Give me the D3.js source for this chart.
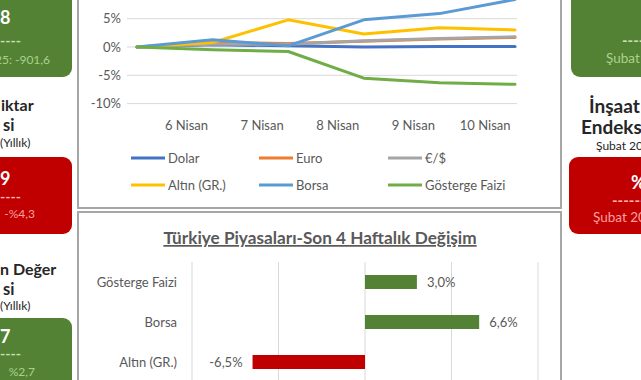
<!DOCTYPE html>
<html><head><meta charset="utf-8">
<script src="https://cdn.jsdelivr.net/npm/d3@7"></script>
<style>body{margin:0;background:#fff}svg{display:block;font-family:Lato,"Open Sans",sans-serif}</style>
</head><body><svg id="c" width="641" height="380"></svg>
<script>
// ---- data ----
const dates = ["", "6 Nisan", "7 Nisan", "8 Nisan", "9 Nisan", "10 Nisan"];
const dolar    = [0, 0.4, 0.2, 0.0, 0.1, 0.1];
const euro     = [0, 0.8, 0.6, 1.0, 1.4, 1.7];
const eurUsd   = [0, 0.5, 0.5, 1.1, 1.5, 1.8];
const altin    = [0, 0.8, 4.8, 2.3, 3.4, 3.0];
const borsa    = [0, 1.3, 0.2, 4.8, 5.9, 8.4];
const gosterge = [0, -0.5, -0.8, -5.5, -6.3, -6.6];
const seriesNames = ["Dolar", "Euro", "€/$", "Altın (GR.)", "Borsa", "Gösterge Faizi"];
const lineTicks = [-10, -5, 0, 5, 10];
const barTitle = "Türkiye Piyasaları-Son 4 Haftalık Değişim";
const barCats = ["Gösterge Faizi", "Borsa", "Altın (GR.)"];
const barVals = [3.0, 6.6, -6.5];
const barTicks = [-10, -5, 0, 5, 10];

const svg = d3.select("#c");
const grey = "#595959";
const colors = ["#4472C4", "#ED7D31", "#A5A5A5", "#FFC000", "#5B9BD5", "#70AD47"];
const allSeries = [dolar, euro, eurUsd, altin, borsa, gosterge];
const fmt = v => d3.format(".1f")(v).replace("\u2212", "-").replace(".", ",") + "%";

// ---- side cards ----
const cardG = "#548235", cardR = "#C00000";
function card(x, y, w, h, fill) {
  svg.append("rect").attr("x", x).attr("y", y).attr("width", w).attr("height", h)
    .attr("rx", 9).attr("fill", fill);
}
function txt(x, y, s, opt) {
  return svg.append("text").attr("x", x).attr("y", y).text(s)
    .attr("text-anchor", opt.anchor || "start")
    .attr("font-size", opt.size || 13)
    .attr("font-weight", opt.bold ? 700 : 400)
    .attr("fill", opt.fill || grey);
}
// left column (only the visible right-hand part of each text)
card(-30, -20, 102, 97, cardG);
txt(0, 24, "8", {size: 18, bold: true, fill: "#fff"});
txt(0, 46, "----", {size: 14, bold: true, fill: "#C5E0B4"});
txt(50, 64, "25: -901,6", {anchor: "end", size: 12, fill: "#A9D18E"});

txt(1, 111, "iktar", {size: 16, bold: true, fill: "#262626"});
txt(3, 131, "si", {size: 16.5, bold: true, fill: "#262626"});
txt(0, 147, "(Yıllık)", {size: 12, fill: "#262626"});
card(-30, 157, 102, 77, cardR);
txt(0, 185, "9", {size: 18, bold: true, fill: "#fff"});
txt(0, 202, "----", {size: 14, bold: true, fill: "#FFB3B3"});
txt(35, 218, "-%4,3", {anchor: "end", size: 12, fill: "#FF9F9F"});

txt(0, 275, "n Değer", {size: 16, bold: true, fill: "#262626"});
txt(3, 295, "si", {size: 16.5, bold: true, fill: "#262626"});
txt(0, 310, "(Yıllık)", {size: 12, fill: "#262626"});
card(-30, 318, 102, 90, cardG);
txt(0, 343, "7", {size: 18, bold: true, fill: "#fff"});
txt(0, 359, "----", {size: 14, bold: true, fill: "#C5E0B4"});
txt(35, 376, "%2,7", {anchor: "end", size: 12, fill: "#A9D18E"});

// right column
card(571, -20, 110, 97, cardG);
txt(622, 46, "-------", {size: 15, bold: true, fill: "#C5E0B4"});
txt(606, 63, "Şubat 2025", {size: 13.5, fill: "#A9D18E"});
txt(589, 113, "İnşaat", {size: 19, bold: true, fill: "#262626"});
txt(581, 134, "Endeksi", {size: 19, bold: true, fill: "#262626"});
txt(596, 150, "Şubat 2025 (Yıllık)", {size: 12, fill: "#262626"});
card(569, 157, 110, 77, cardR);
txt(631, 189, "%", {size: 18, bold: true, fill: "#fff"});
txt(612, 206, "-------", {size: 15, bold: true, fill: "#FFB3B3"});
txt(593, 222, "Şubat 2024", {size: 13.5, fill: "#FF9F9F"});

// ---- panel borders ----
const border = "#A6A6A6";
svg.append("rect").attr("x", 78).attr("y", -10).attr("width", 483).attr("height", 218)
  .attr("fill", "none").attr("stroke", border).attr("stroke-width", 2);
svg.append("rect").attr("x", 78).attr("y", 212).attr("width", 483).attr("height", 200)
  .attr("fill", "none").attr("stroke", border).attr("stroke-width", 2);

// ---- line chart ----
const x = d3.scalePoint().domain(dates).range([137, 515]);
const y = d3.scaleLinear().domain([-10, 10]).range([103.6, -9.6]);
svg.append("g").selectAll("line").data(lineTicks).join("line")
  .attr("x1", 127).attr("x2", 517)
  .attr("y1", d => y(d)).attr("y2", d => y(d))
  .attr("stroke", "#D9D9D9").attr("stroke-width", 1);

const yAxis = svg.append("g").attr("transform", "translate(127,0)")
  .call(d3.axisLeft(y).tickValues(lineTicks).tickSize(0).tickPadding(6).tickFormat(d => d + "%"));
yAxis.select(".domain").remove();
yAxis.selectAll("text").attr("font-size", 13).attr("fill", grey).attr("font-family", "Lato");

const xAxis = svg.append("g").attr("transform", "translate(0,104)")
  .call(d3.axisBottom(x).tickSize(0).tickPadding(17));
xAxis.select(".domain").remove();
xAxis.selectAll("text").attr("font-size", 13).attr("fill", grey).attr("font-family", "Lato")
  .attr("text-anchor", "end").attr("dx", -5);

const line = d3.line().x((d, i) => x(dates[i])).y(d => y(d));
svg.append("g").selectAll("path").data(allSeries).join("path")
  .attr("d", line).attr("fill", "none")
  .attr("stroke", (d, i) => colors[i]).attr("stroke-width", 3)
  .attr("stroke-linejoin", "round").attr("stroke-linecap", "round");

// legend
const legX = [131, 259, 388];
const legY = [158, 185];
const leg = svg.append("g").selectAll("g").data(seriesNames).join("g")
  .attr("transform", (d, i) => `translate(${legX[i % 3]},${legY[Math.floor(i / 3)]})`);
leg.append("line").attr("x1", 0).attr("x2", 34).attr("stroke", (d, i) => colors[i]).attr("stroke-width", 3);
leg.append("text").attr("x", 37).attr("dy", "0.35em").text(d => d)
  .attr("font-size", 13).attr("fill", grey);

// ---- bar chart ----
svg.append("text").attr("x", 320).attr("y", 244).attr("text-anchor", "middle")
  .attr("font-size", 17.2).attr("font-weight", 700).attr("fill", grey)
  .attr("text-decoration", "underline").text(barTitle);

const bx = d3.scaleLinear().domain([-10, 10]).range([192, 538]);
const by = d3.scaleBand().domain(barCats).range([262, 382]).paddingInner(0.65).paddingOuter(0.325);
svg.append("g").selectAll("line").data(barTicks).join("line")
  .attr("x1", d => bx(d)).attr("x2", d => bx(d)).attr("y1", 262).attr("y2", 390)
  .attr("stroke", "#D9D9D9").attr("stroke-width", 1);
svg.append("g").selectAll("rect").data(barVals).join("rect")
  .attr("x", d => bx(Math.min(0, d))).attr("width", d => Math.abs(bx(d) - bx(0)))
  .attr("y", (d, i) => by(barCats[i])).attr("height", by.bandwidth())
  .attr("fill", d => d >= 0 ? "#548235" : "#C00000");
svg.append("g").selectAll("text").data(barVals).join("text")
  .attr("x", d => d >= 0 ? bx(d) + 10 : bx(d) - 10)
  .attr("y", (d, i) => by(barCats[i]) + by.bandwidth() / 2).attr("dy", "0.35em")
  .attr("text-anchor", d => d >= 0 ? "start" : "end")
  .attr("font-size", 13).attr("fill", grey).text(d => fmt(d));
svg.append("g").selectAll("text").data(barCats).join("text")
  .attr("x", 177).attr("y", d => by(d) + by.bandwidth() / 2).attr("dy", "0.35em")
  .attr("text-anchor", "end").attr("font-size", 13).attr("fill", grey).text(d => d);
</script></body></html>
